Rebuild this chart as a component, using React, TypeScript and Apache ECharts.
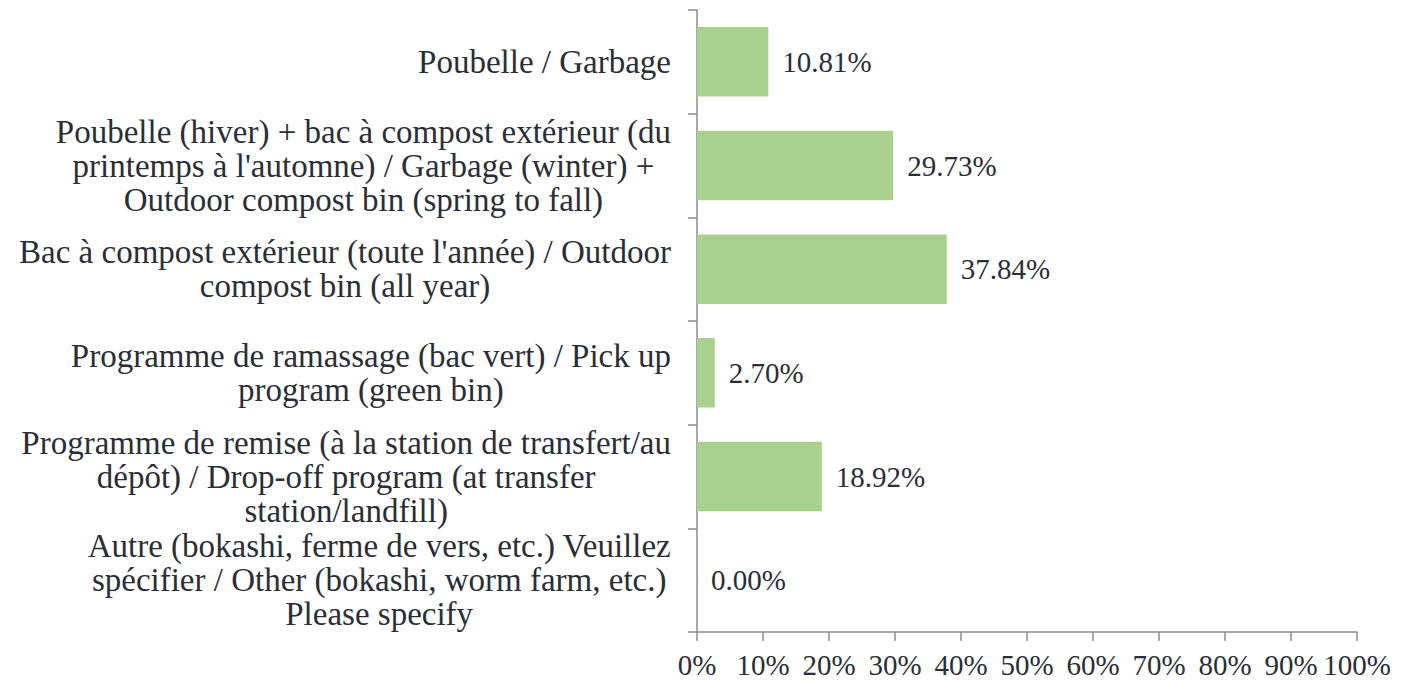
import React, { useEffect, useRef } from "react";
import * as echarts from "echarts";

const categories: string[] = [
  "Poubelle / Garbage",
  "Poubelle (hiver) + bac à compost extérieur (du\nprintemps à l'automne) / Garbage (winter) +\nOutdoor compost bin (spring to fall)",
  "Bac à compost extérieur (toute l'année) / Outdoor\ncompost bin (all year)",
  "Programme de ramassage (bac vert) / Pick up\nprogram (green bin)",
  "Programme de remise (à la station de transfert/au\ndépôt) / Drop-off program (at transfer\nstation/landfill)",
  "Autre (bokashi, ferme de vers, etc.) Veuillez\nspécifier / Other (bokashi, worm farm, etc.)\nPlease specify",
];

const values: number[] = [10.81, 29.73, 37.84, 2.7, 18.92, 0.0];

const xTicks = { min: 0, max: 100, interval: 10 };

const FONT = "'Liberation Serif', 'Times New Roman', serif";
const TEXT = "#2b2e37";
const AXIS = "#8c8c8c";
const BAR = "#a9d18e";
const FS_CAT = 33;
const FS_NUM = 29;

export default function App() {
  const ref = useRef<HTMLDivElement>(null);
  useEffect(() => {
    document.body.style.margin = "0";
    if (!ref.current) return;
    const chart = echarts.init(ref.current, undefined, { renderer: "svg" });
    chart.setOption({
      animation: false,
      backgroundColor: "#ffffff",
      grid: {
        left: 697,
        right: 55,
        top: 10,
        bottom: 49,
        outerBoundsMode: "none",
        containLabel: false,
      },
      xAxis: {
        type: "value",
        min: xTicks.min,
        max: xTicks.max,
        interval: xTicks.interval,
        axisLine: { show: true, lineStyle: { color: AXIS, width: 1.5 } },
        axisTick: { show: true, length: 9, lineStyle: { color: AXIS, width: 1.5 } },
        splitLine: { show: false },
        axisLabel: {
          formatter: "{value}%",
          fontFamily: FONT,
          fontSize: FS_NUM,
          lineHeight: 24,
          color: TEXT,
          margin: 21,
        },
      },
      yAxis: {
        type: "category",
        inverse: true,
        data: categories,
        axisLine: { show: true, lineStyle: { color: AXIS, width: 1.5 } },
        axisTick: { show: true, length: 9, lineStyle: { color: AXIS, width: 1.5 } },
        splitLine: { show: false },
        axisLabel: {
          margin: 26,
          interval: 0,
          align: "right",
          formatter: (v: string) =>
            v
              .split("\n")
              .map((l) => `{c|${l}}`)
              .join("\n"),
          rich: {
            c: {
              align: "center",
              fontFamily: FONT,
              fontSize: FS_CAT,
              color: TEXT,
              lineHeight: 34,
            },
          },
        },
      },
      series: [
        {
          type: "bar",
          data: values,
          barCategoryGap: "33%",
          itemStyle: { color: BAR },
          label: {
            show: true,
            position: "right",
            distance: 14,
            fontFamily: FONT,
            fontSize: FS_NUM,
            color: TEXT,
            formatter: (p: any) => `${Number(p.value).toFixed(2)}%`,
          },
        },
      ],
    });
    return () => chart.dispose();
  }, []);
  return (
    <div
      ref={ref}
      style={{ position: "fixed", left: 0, top: 0, width: 1412, height: 681 }}
    />
  );
}
